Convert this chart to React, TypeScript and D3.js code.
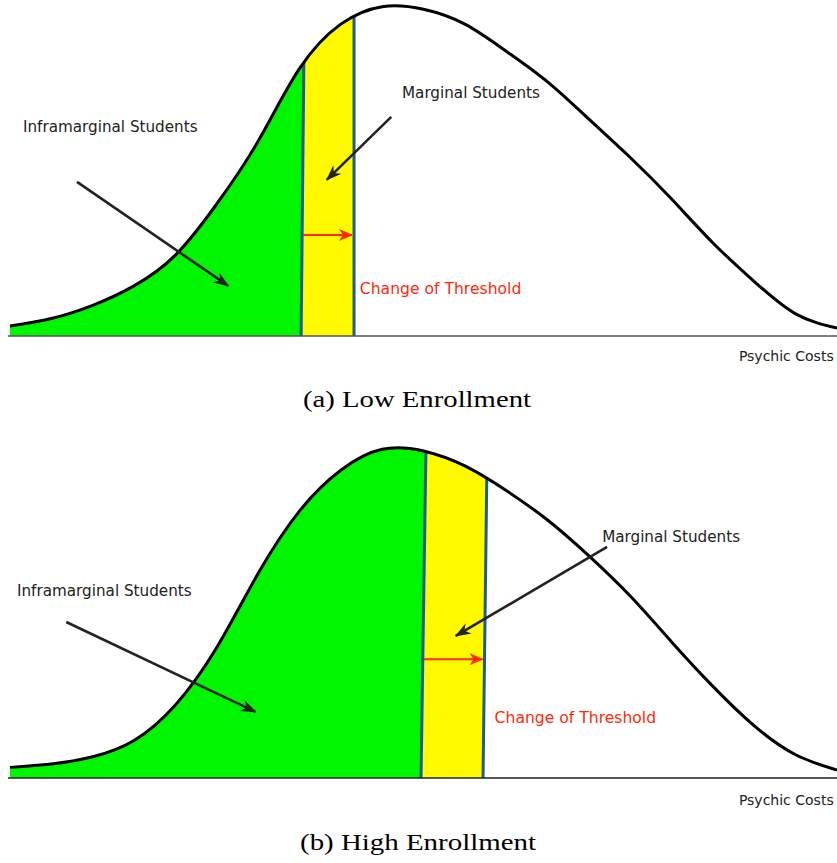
import React from 'react';
import * as d3 from 'd3';

// psychic cost grid (abstract units) and density
const costs = [0, 0.5, 1, 1.5, 2, 2.5, 3, 3.5, 4, 4.5, 5, 5.5, 6, 6.5, 7, 7.5, 8, 8.5, 9, 9.5, 10];
const lowDensity = [0.03, 0.053, 0.093, 0.152, 0.245, 0.4, 0.59, 0.81, 0.945, 0.998, 0.99, 0.945, 0.863, 0.77, 0.657, 0.541, 0.415, 0.282, 0.165, 0.067, 0.024];
const highDensity = [0.032, 0.042, 0.064, 0.113, 0.22, 0.393, 0.616, 0.804, 0.927, 0.99, 0.985, 0.94, 0.866, 0.777, 0.669, 0.548, 0.41, 0.276, 0.157, 0.07, 0.024];

// thresholds: [cost at the baseline, cost at density 1]
const lowThresholds = [[3.52, 3.56], [4.16, 4.16]];
const highThresholds = [[4.97, 5.03], [5.72, 5.77]];

// annotation anchors in (cost, density)
const lowNotes = {
  infraLabel: [0.157, 0.617], infraArrow: [[0.81, 0.467], [2.64, 0.152]],
  margLabel: [4.74, 0.72], margArrow: [[4.61, 0.664], [3.83, 0.473]],
  changeLabel: [4.23, 0.126], shiftAt: 0.306, axisLabel: [9.96, -0.077],
};
const highNotes = {
  infraLabel: [0.085, 0.547], infraArrow: [[0.68, 0.47], [2.97, 0.199]],
  margLabel: [7.16, 0.71], margArrow: [[7.22, 0.696], [5.39, 0.428]],
  changeLabel: [5.86, 0.167], shiftAt: 0.358, axisLabel: [9.96, -0.081],
};

const width = 837;
const height = 863;
const sans = 'DejaVu Sans, Verdana, sans-serif';

function Panel({ id, density, thresholds, notes, top, base, axisColor }) {
  const x = d3.scaleLinear().domain([0, 10]).range([10, 837]);
  const y = d3.scaleLinear().domain([0, 1]).range([base, top]);
  const pts = costs.map((c, i) => [c, density[i]]);

  const curve = d3.curveNatural;
  const line = d3.line().x(d => x(d[0])).y(d => y(d[1])).curve(curve);
  const area = d3.area().x(d => x(d[0])).y0(y(0)).y1(d => y(d[1])).curve(curve);

  // x position of a (slanted) threshold line at a given density
  const tx = (t, d) => x(t[0] + (t[1] - t[0]) * d);
  const hi = 1.1;
  const [t1, t2] = thresholds;

  const green = [[x(0) - 3, y(0)], [x(0) - 3, y(hi)], [tx(t1, hi), y(hi)], [tx(t1, 0), y(0)]];
  const yellow = [[tx(t1, 0), y(0)], [tx(t1, hi), y(hi)], [tx(t2, hi), y(hi)], [tx(t2, 0), y(0)]];
  const poly = p => 'M' + p.map(q => q.join(',')).join('L') + 'Z';

  const clip = `clip-${id}`;
  const arr = a => ({ x1: x(a[0][0]), y1: y(a[0][1]), x2: x(a[1][0]), y2: y(a[1][1]) });
  const ia = arr(notes.infraArrow);
  const ma = arr(notes.margArrow);

  return (
    <g>
      <defs>
        <clipPath id={clip}>
          <path d={area(pts)} />
        </clipPath>
      </defs>
      <g clipPath={`url(#${clip})`}>
        <path d={poly(green)} fill="#00f500" />
        <path d={poly(yellow)} fill="#fffa00" />
        {thresholds.map((t, i) => (
          <line key={i} x1={tx(t, 0)} y1={y(0)} x2={tx(t, hi)} y2={y(hi)} stroke="#1c5a98" strokeWidth={3} />
        ))}
      </g>
      <line x1={8} x2={width} y1={y(0)} y2={y(0)} stroke={axisColor} strokeWidth={1.5} />
      <path d={line(pts)} fill="none" stroke="#000" strokeWidth={3} />

      <line x1={tx(t1, notes.shiftAt) + 1} y1={y(notes.shiftAt)} x2={tx(t2, notes.shiftAt) - 2} y2={y(notes.shiftAt)}
        stroke="#ff2a00" strokeWidth={2} markerEnd="url(#head-red)" />
      <line {...ia} stroke="#222" strokeWidth={2.6} markerEnd="url(#head-black)" />
      <line {...ma} stroke="#222" strokeWidth={2.6} markerEnd="url(#head-black)" />

      <g fontFamily={sans} fontSize={15.2} fill="#222">
        <text x={x(notes.infraLabel[0])} y={y(notes.infraLabel[1])}>Inframarginal Students</text>
        <text x={x(notes.margLabel[0])} y={y(notes.margLabel[1])}>Marginal Students</text>
        <text x={x(notes.changeLabel[0])} y={y(notes.changeLabel[1])} fill="#ff2a0a" fontSize={15.6}>Change of Threshold</text>
        <text x={x(notes.axisLabel[0])} y={y(notes.axisLabel[1])} fontSize={14} textAnchor="end">Psychic Costs</text>
      </g>
    </g>
  );
}

export default function App() {
  return (
    <div style={{ position: 'absolute', left: 0, top: 0 }}>
      <svg width={width} height={height} style={{ display: 'block', background: '#fff' }}>
        <defs>
          <marker id="head-black" viewBox="0 0 16 12" refX={15} refY={6} markerWidth={16} markerHeight={12}
            markerUnits="userSpaceOnUse" orient="auto">
            <path d="M0,0 L16,6 L0,12 L5,6 Z" fill="#222" />
          </marker>
          <marker id="head-red" viewBox="0 0 14 12" refX={13} refY={6} markerWidth={14} markerHeight={12}
            markerUnits="userSpaceOnUse" orient="auto">
            <path d="M0,0 L14,6 L0,12 L4,6 Z" fill="#ff2a00" />
          </marker>
        </defs>
        <Panel id="low" density={lowDensity} thresholds={lowThresholds} notes={lowNotes} top={6} base={336} axisColor="#555" />
        <Panel id="high" density={highDensity} thresholds={highThresholds} notes={highNotes} top={446} base={778} axisColor="#222" />
        <g fontFamily="Liberation Serif, Times New Roman, serif" fontSize={23} fill="#000">
          <text x={303} y={407} textLength={228} lengthAdjust="spacingAndGlyphs">(a) Low Enrollment</text>
          <text x={300} y={850} textLength={236} lengthAdjust="spacingAndGlyphs">(b) High Enrollment</text>
        </g>
      </svg>
    </div>
  );
}
